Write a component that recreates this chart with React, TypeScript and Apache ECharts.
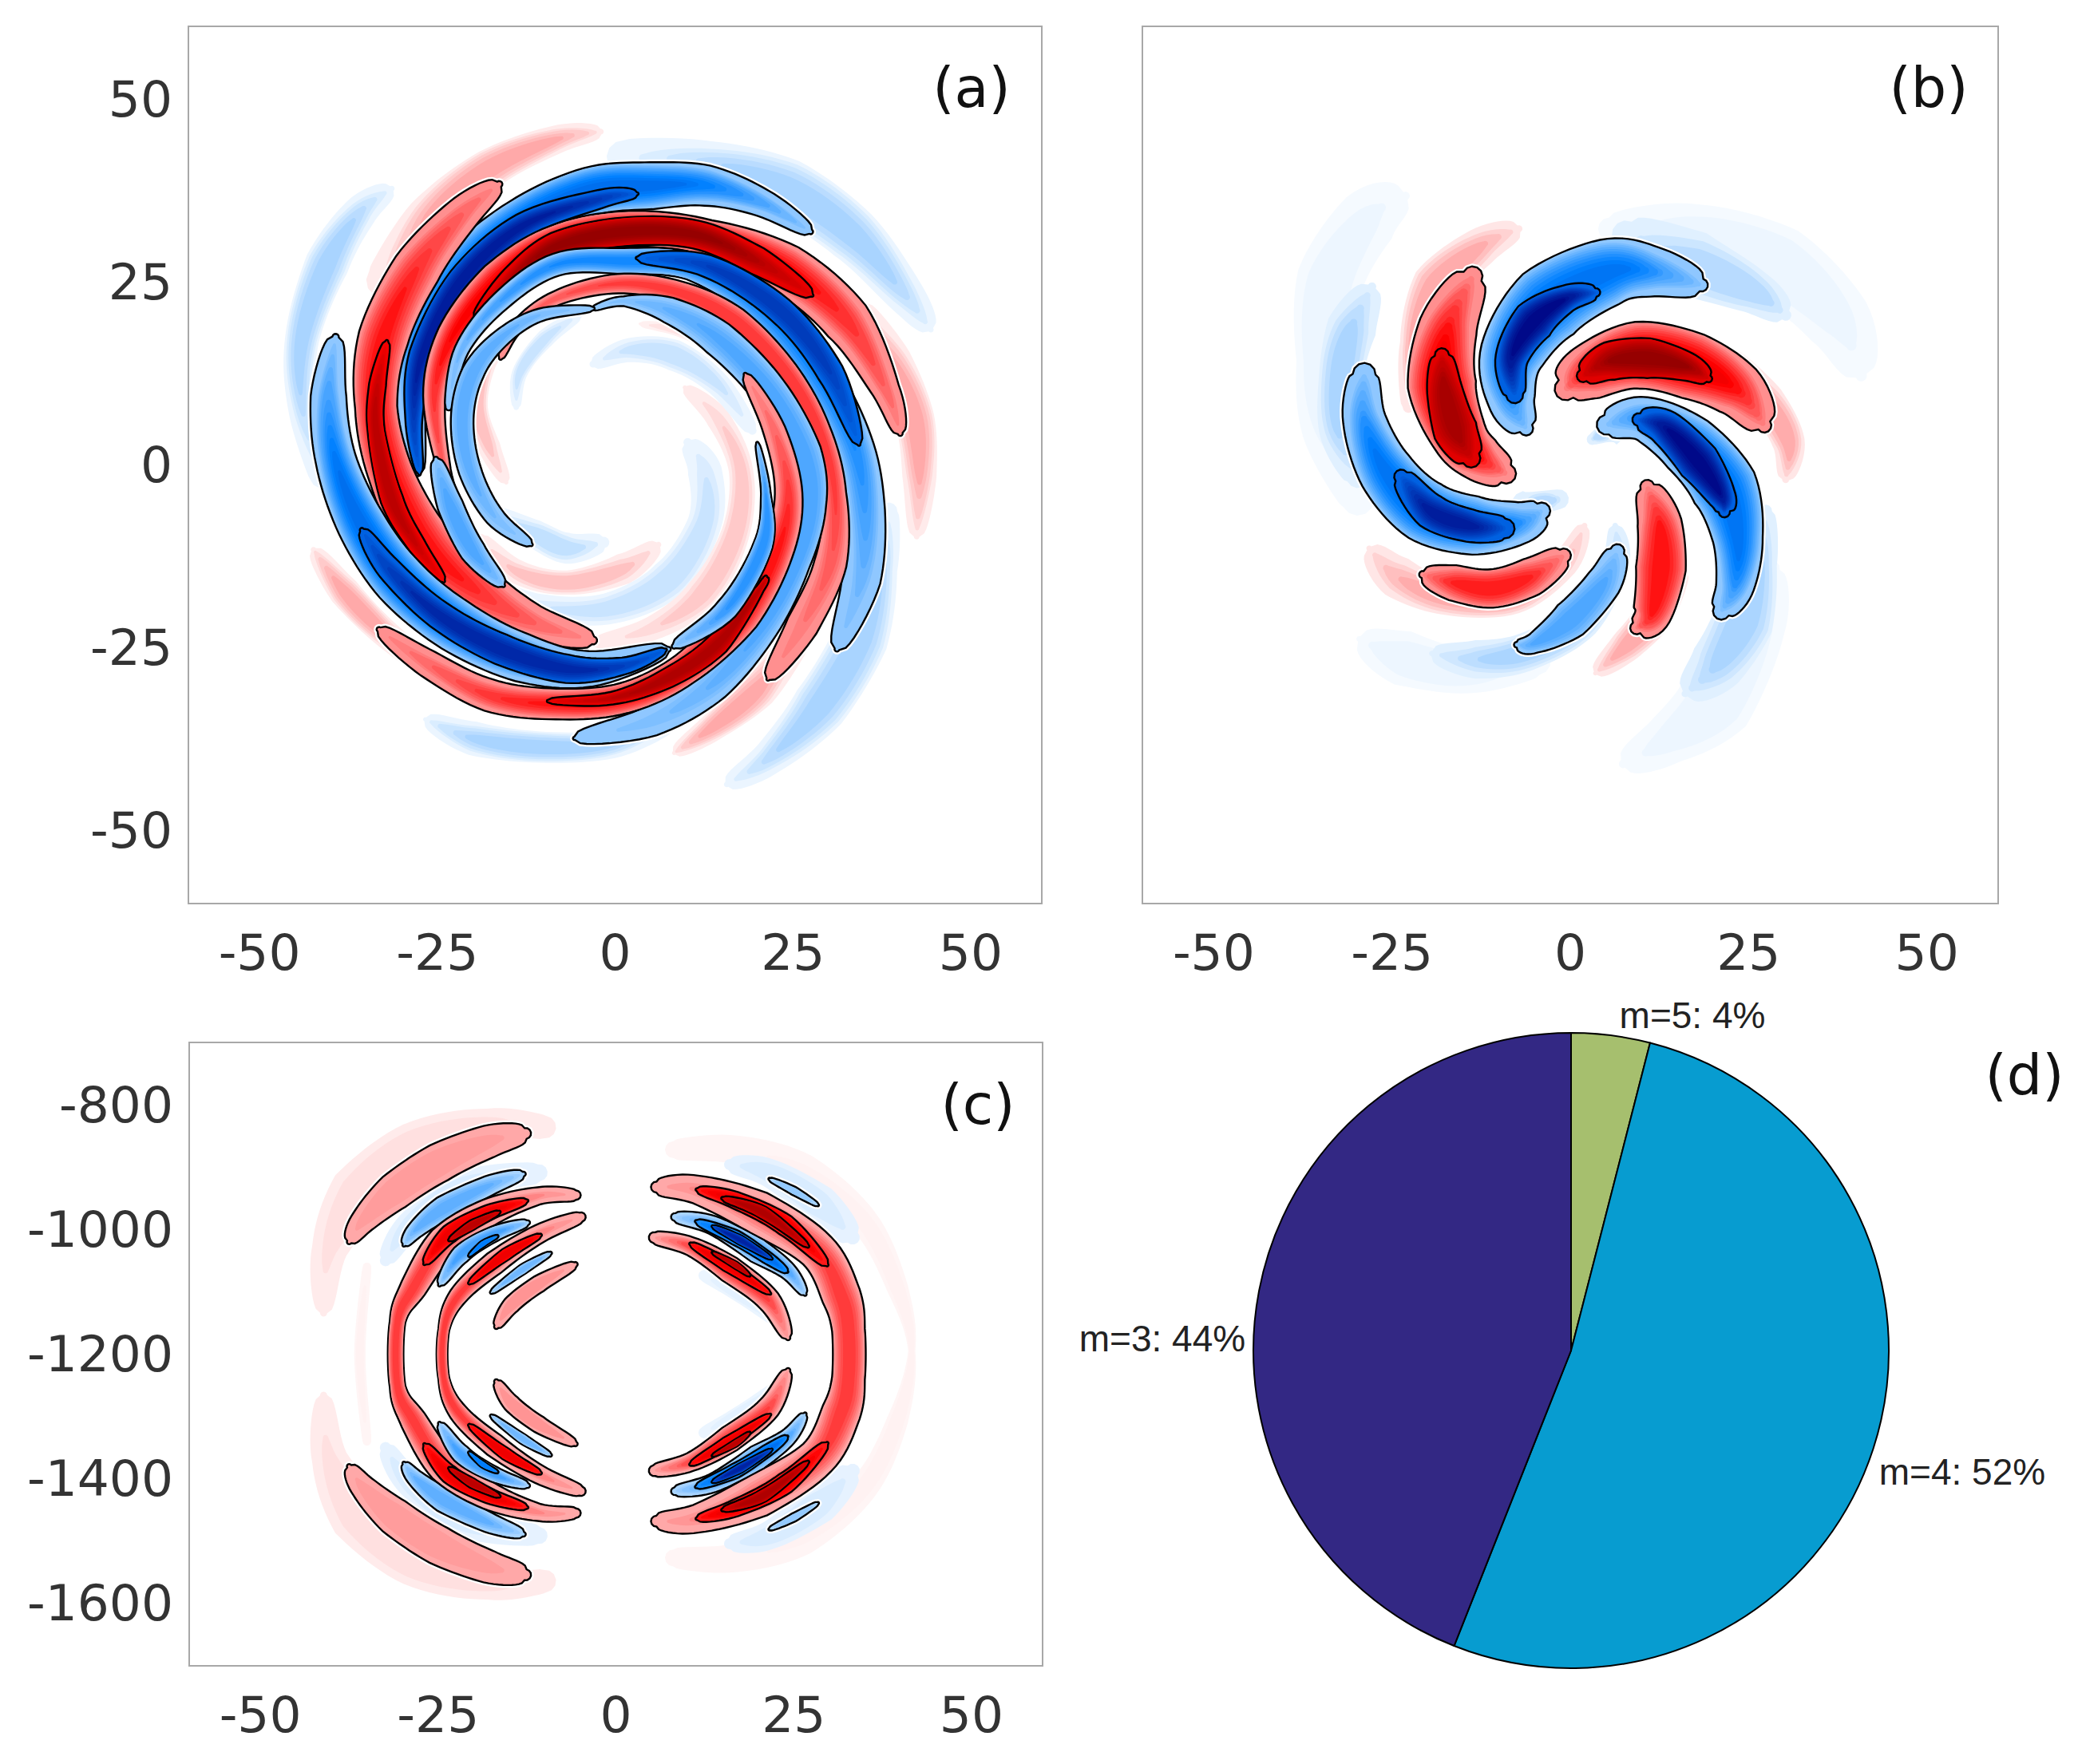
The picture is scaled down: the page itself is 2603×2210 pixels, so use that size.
import React, { useEffect, useRef } from 'react';
import * as echarts from 'echarts';

// every ridge of the contour plots is a spine: [x, y, half width]
type Spine = number[][];
type Blob = [number, number, number, Spine]; // sign (1 red, -1 blue), level from, level to, spine

const xTicks = [-50, -25, 0, 25, 50];
const yTicksAB = [-50, -25, 0, 25, 50];
const yTicksC = [-1600, -1400, -1200, -1000, -800];
const pieNames = ['m=5: 4%', 'm=4: 52%', 'm=3: 44%'];
const pieValues = [4, 52, 44];
const pieColors = ['#a6bf6e', '#079cd0', '#332884'];

// panel (a), pale outer and inner arms
const aP1 = [[-31.4, 37.8, .4], [-35.8, 34.6, 2.4], [-40.5, 27.5, 3.1], [-44, 17.3, 2.4], [-44, 7.9, 2], [-41.3, -1.6, 1.6]];
const aP2 = [[-2, 45.6, .4], [-8.3, 44.5, 2], [-17.7, 40.5, 2.8], [-26.3, 33.8, 3.1], [-32.6, 25.2, 2.4]];
const aP3 = [[44.4, 18.5, .4], [40.5, 23.6, 2.8], [33.4, 31.5, 3.9], [24, 37.8, 4.3], [13, 41.3, 3.1], [1.2, 42.1, 2.4]];
const aP4 = [[42.4, -9.8, .4], [42.8, -1.6, 2.4], [42.1, 6.3, 2.8], [38.9, 14.2, 2.8], [34.2, 21.2, 1.6]];
const aP5 = [[15.7, -43.7, .4], [21.6, -40.1, 2.4], [28.7, -33.1, 3.9], [34.6, -23.6, 3.9], [37.7, -14.2, 2], [38.5, -6.3, 1.2]];
const aP6 = [[8.3, -39.4, .3], [13.8, -35.8, 2], [20, -30.7, 2.8], [25.5, -23.6, 2]];
const aP7 = [[-26.7, -34.8, .3], [-20, -37.4, 2.4], [-10.6, -38.6, 2.2], [-.4, -38.2, 2], [7.5, -35.4, 1.2]];
const aP8 = [[-42.4, -11.6, .4], [-38.1, -17.3, 2.2], [-32.6, -22.8, 2], [-25.5, -28.3, 1.4]];
const aP9 = [[-15.3, -2.4, .3], [-17.7, 2.4, 1.6], [-19.3, 7.9, 1.4], [-18.1, 13.4, 1.2], [-15.7, 16.5, .5]];
const aP10 = [[-13.9, 7.9, .4], [-13.4, 12.6, 1.1], [-9.8, 17.3, 1.3], [-5.1, 20.5, .5]];
const aP11 = [[-17.7, -6.3, .5], [-11.4, -9.4, 2], [-6.7, -11.4, 2.2], [-1.6, -10.6, .8]];
const aP12 = [[6.1, -10.9, .4], [1.2, -14.2, 2.2], [-6.7, -16.1, 1.7], [-13.8, -14.6, 1.7], [-18.9, -10.2, .8]];
const aP13 = [[10.2, 3.1, .6], [12.6, -.8, 2.4], [12.6, -7.9, 2.4], [7.5, -15.7, 2.8], [-1.2, -19.7, 2.2], [-10.6, -19.3, 1.7], [-16.9, -16.5, .4]];
const aP14 = [[9.8, 10.6, .3], [14.5, 6.3, 1.7], [17.7, -.8, 1.7], [16.9, -9.4, 2], [12.2, -17.7, 2.4], [5.1, -22.4, 1.7], [-2.8, -24.4, .6]];
const aP15 = [[-3.1, 13.8, .5], [2, 15.7, 1.7], [8.3, 15, 2.2], [14.5, 11, 1.7], [19.3, 4.7, .6]];
const aP16 = [[3.5, 19.3, .2], [9.8, 18.1, .9], [16.9, 14.2, .6]];

// panel (a), arms with a black contour
const aBlueTop = [[27.5, 31.9, .3], [20.8, 35.8, 1.7], [13, 38.2, 2.5], [5.1, 38.2, 2.9], [-3.5, 37.4, 3], [-13, 33.1, 3.1], [-21.6, 26, 3.3], [-27.1, 17.3, 3.1], [-28.8, 9.4, 2], [-27.7, -1.2, .3]];
const aBlueTopCore = [[3.1, 37.1, .2], [-2, 36.4, 1.3], [-13, 32.7, 1.8], [-21.6, 25.2, 2], [-27.1, 15, 1.9], [-28.3, 6.3, 1.2], [-27.5, -1.2, .2]];
const aRedLeft = [[-16.3, 38.4, .4], [-21.6, 34.2, 2.2], [-27.9, 26.8, 3], [-32.6, 17.3, 3.1], [-33.6, 7.9, 2.6], [-31.4, -1.6, 2.8], [-26.3, -11, 3.3], [-19.3, -17.3, 3.3], [-11.4, -21.6, 2.2], [-3.1, -24, .5]];
const aRedLeftCore = [[-32.1, 16.9, .2], [-33.4, 11, 1.2], [-33.6, 4.7, 1.2], [-31.4, -4.7, 1.6], [-27.9, -11, 1.3], [-24.1, -15.9, .2]];
const aBlueLeft = [[-39.3, 17.5, .4], [-40.3, 9.4, 2.2], [-39.3, .8, 2.5], [-35.8, -7.9, 3], [-30.3, -15.7, 3.3], [-22.4, -22, 3.3], [-13, -26.4, 3], [-3.5, -27.9, 2.2], [7.5, -25.2, .3]];
const aBlueLeftCore = [[-35.6, -8.9, .3], [-31.8, -14.2, 1.7], [-24.8, -20.5, 2], [-16.1, -25.2, 2.2], [-6.7, -27.9, 2], [1.2, -27.5, 1.2], [7.1, -25.3, .2]];
const aRedTop = [[40.1, 4.3, .3], [38.1, 10.2, 1.7], [32.6, 19.7, 3], [24, 26.8, 3.1], [13, 31.1, 2.2], [2, 32.3, 2.2], [-8.3, 30.5, 2.1], [-16.5, 25.2, 2.4], [-22.8, 17.7, 2], [-25.4, 9.4, 1.4], [-24, -.8, .8], [-21.6, -7.1, .2]];
const aRedTopCore = [[-19.7, 20.1, .2], [-14.5, 25.6, 1.6], [-8.3, 29.9, 2], [1.2, 31.9, 2], [11.4, 31.5, 2], [20, 27.9, 2], [27.7, 23.2, .2]];
const aBlueRight = [[31.2, -25.2, .3], [34.6, -15.7, 2.4], [35.1, -6.3, 2.5], [33.4, 3.1, 2.4], [27.9, 13.4, 2.5], [20, 22.4, 2.4], [10.6, 27.2, 1.7], [1.2, 27.9, 1.6], [-8.3, 27.4, 1.4], [-16.1, 22.4, 1.2], [-21.6, 15.7, .9], [-23.4, 7.9, .4]];
const aBlueRightCore = [[3.1, 28.3, .2], [13, 27.2, 1.6], [23.2, 21.2, 1.9], [30.3, 12.6, 1.9], [34.3, 2.8, .2]];
const aBlueTail = [[-25.2, .8, .3], [-23.2, -5.5, 1.6], [-20, -11.8, 1.6], [-15.7, -16.5, .2]];
const aRedRight = [[21.5, -29.3, .2], [26.3, -22, 2], [30.3, -13.4, 2], [30.9, -3.9, 1.4], [28.7, 4.7, 1.4], [24, 12.6, 1.6], [16.9, 19.7, 1.7], [9, 23.6, 1.4], [.4, 24.8, 1.2], [-8.3, 22.8, .9], [-13.8, 18.9, .8], [-16.1, 14.6, .2]];
const aBlueMid = [[-3.1, 21.4, .2], [1.2, 22.4, .6], [7.5, 21.2, 1.6], [14.5, 17.3, 2.2], [21.6, 10.2, 2.2], [26.3, 1.6, 2.4], [27.5, -5.5, 1.9], [25.5, -13.4, 1.7], [20.8, -22, 2], [13.8, -29.9, 2.2], [5.1, -35, 1.9], [-5.7, -37.4, .2]];
const aBlueInner = [[-11.8, -10.9, .2], [-16.9, -7.1, 1.2], [-20.4, -.8, 1.4], [-21.5, 6.3, 1.4], [-20, 12.6, 1.4], [-16.1, 17.3, 1.1], [-10.6, 20.5, .8], [-3.1, 21.4, .2]];
const aRedBottom = [[-33.2, -22.5, .3], [-26.3, -27.2, 1.7], [-17.7, -31.5, 2], [-8.3, -32.7, 1.9], [1.2, -31.9, 1.9], [9.8, -27.9, 2], [17.7, -20.5, 2.4], [22.8, -11.8, 2], [24.4, -3.9, 1.7], [22.4, 4.7, 1.4], [18.3, 12.4, .2]];
const aRedBottomCore = [[-9.4, -32.3, .2], [-.4, -31.9, .9], [7.5, -29.1, 1.4], [14.5, -24.4, 1.6], [20.4, -16.9, .6], [21.2, -15.3, .2]];
const aBlueThin = [[20, 3, .15], [21.2, -3.9, .6], [20.8, -11, 1.2], [15.7, -19.7, 1.4], [8.3, -24.8, .3]];

const panelA: Blob[] = [
  [-1, .04, .2, aP1], [1, .04, .2, aP2], [-1, .04, .2, aP3], [1, .04, .2, aP4], [-1, .04, .2, aP5], [1, .04, .2, aP6],
  [-1, .04, .2, aP7], [1, .04, .2, aP8], [1, .04, .16, aP9], [-1, .04, .14, aP10], [-1, .04, .16, aP11], [1, .04, .16, aP12],
  [-1, .04, .14, aP13], [1, .04, .14, aP14], [-1, .04, .14, aP15], [1, .03, .08, aP16],
  [-1, .22, .6, aBlueTop], [-1, .62, .92, aBlueTopCore], [1, .22, .5, aRedLeft], [1, .55, .8, aRedLeftCore],
  [-1, .22, .6, aBlueLeft], [-1, .62, .88, aBlueLeftCore], [1, .22, .55, aRedTop], [1, .6, .95, aRedTopCore],
  [-1, .22, .5, aBlueRight], [-1, .6, .8, aBlueRightCore], [-1, .22, .38, aBlueTail], [1, .22, .42, aRedRight],
  [-1, .22, .38, aBlueMid], [-1, .22, .35, aBlueInner], [1, .22, .5, aRedBottom], [1, .6, .85, aRedBottomCore], [-1, .22, .45, aBlueThin],
];

// panel (b)
const bH1 = [[-23.1, 36.8, .6], [-28.2, 33.8, 4.3], [-33.7, 25.2, 4.7], [-35.3, 14.2, 3.1], [-34.5, 4.7, 3.1], [-29.8, -4.7, 2.3]];
const bH2 = [[-27.8, 24.4, .6], [-30.6, 18.9, 3.5], [-32.1, 12.6, 3.1], [-32.5, 4.7, 2.7], [-29.8, -1.6, 1.6]];
const bH3 = [[-7.2, 32.3, .5], [-12.5, 29.9, 2.7], [-18.8, 24.4, 3.5], [-22.3, 16.5, 1.6], [-22.7, 7.9, .8]];
const bH4a = [[40.8, 12.2, .8], [37.6, 19.7, 4.7], [29, 27.5, 5.5], [17.2, 32.3, 3.5], [5.5, 32.3, 1.6]];
const bH4b = [[30.2, 20.5, .8], [25.9, 23.6, 3.1], [17.2, 27.5, 4.7], [7.8, 31.5, 2]];
const bH5 = [[30.2, -2, .5], [30.6, 3.1, 2.3], [27.4, 8.7, 2.7], [22, 14.2, 2]];
const bH6a = [[7.4, -40.9, .6], [13.3, -37.8, 3.5], [20.4, -32.3, 5.5], [26.7, -22, 3.5], [28.2, -14.2, 1.2]];
const bH6b = [[16.1, -31.3, .5], [20.4, -27.5, 3.9], [24.3, -21.2, 4.3], [26.7, -13.4, 2.3], [27.4, -6.3, .9]];
const bH7 = [[3.5, -28.5, .3], [7.8, -24.8, 2.3], [11.8, -20.5, 2.7], [15.3, -14.2, 1.2]];
const bH8a = [[-29.6, -23.8, .4], [-23.5, -26.4, 3.9], [-14.1, -28.3, 3], [-4.7, -26.8, 2]];
const bH8b = [[-19.4, -25.8, .4], [-13.3, -26.6, 2.7], [-6.3, -25.6, 2.7], [1.6, -21.2, 2.7], [6.3, -13.4, 2], [6.3, -8.3, .4]];
const bH9 = [[-28.2, -11.4, .4], [-24.3, -15.3, 3], [-17.2, -18.1, 2.5], [-7.8, -18.1, 2.3], [-.8, -13.4, 2], [2, -8.3, .4]];
const bH10 = [[-6.3, -5.5, 2], [-1.6, -4.7, 1.4]];
const bH11 = [[5.5, 4.7, 2.2], [3.1, 3.5, .8]];

const bBlueTop = [[18.4, 24.6, .9], [11.8, 26.4, 3.5], [5.5, 26.4, 4.7], [-3.1, 22, 5.5], [-8.2, 15, 4.5], [-8.2, 8.7, 3.3], [-6.2, 5, 1]];
const bBlueTopCore = [[3.6, 23.6, .6], [-.4, 22.8, 1.9], [-5.1, 19.7, 3], [-8.2, 14.6, 2.3], [-7.8, 9.6, 1.2]];
const bRedTop = [[-.6, 10.4, 1.6], [2.4, 12.6, 3.9], [9.4, 15, 4.7], [17.2, 13.5, 4.7], [23.5, 10.2, 3.9], [27.2, 5.4, 1]];
const bRedTopCore = [[1.8, 12.2, .9], [5.5, 14.2, 2.7], [11, 14.6, 2.8], [16.5, 13.4, 2], [19.4, 11.8, .5]];
const bBlueRight = [[5.1, 5.5, 1.4], [10.2, 6.3, 3.1], [16.5, 2.8, 4.3], [21.6, -3.1, 4.7], [23.5, -10.2, 3.5], [23.1, -16.5, 2.7], [21.2, -20, 1.2]];
const bBlueRightCore = [[9.6, 6.2, .9], [13.3, 5.1, 2.5], [18, .4, 3], [21.2, -4.3, 2], [21.6, -6.4, .8]];
const bRedRight = [[10.8, -3, 1], [12.5, -7.9, 3.1], [12.7, -14.2, 3.5], [11.4, -20.5, 2.7], [9.3, -22.3, .9]];
const bBlueBottom = [[6.6, -11.8, 1], [4.7, -16.1, 2.5], [0, -21.2, 2.7], [-5.1, -24.4, 1.4], [-7.5, -24.6, .4]];
const bRedBottom = [[-20.7, -15, .5], [-16.5, -16.1, 2.5], [-11, -16.9, 2.7], [-5.5, -15.3, 2.7], [-.9, -12.4, 1]];
const bBlueLeft = [[-28.9, 12.4, 1.6], [-28.9, 6.3, 3], [-25.9, -.8, 3.9], [-20.4, -6.3, 4.4], [-13.3, -8.3, 4.1], [-7.1, -7.9, 3], [-4, -6.3, 1.2]];
const bBlueLeftCore = [[-23.7, -1.6, 1], [-19.6, -6.3, 2.5], [-14.1, -8.3, 2.3], [-9.2, -8.7, 1.4]];
const bRedLeft = [[-13.7, 25.8, 1.4], [-17.1, 18.9, 4.1], [-18, 11, 4.8], [-15.5, 3.9, 3.9], [-12.5, .8, 3.3], [-9, -1.2, 1.4]];
const bRedLeftCore = [[-18, 15, 1], [-17.6, 10.2, 2.5], [-16.1, 4.7, 3.1], [-13.9, .9, 1.3]];

const panelB: Blob[] = [
  [-1, .02, .05, bH1], [-1, .02, .05, bH4a], [-1, .02, .05, bH6a], [-1, .02, .05, bH8a],
  [-1, .06, .2, bH2], [1, .05, .2, bH3], [-1, .06, .18, bH4b], [1, .05, .2, bH5], [-1, .06, .2, bH6b], [1, .05, .2, bH7],
  [-1, .06, .2, bH8b], [1, .05, .2, bH9], [-1, .06, .18, bH10], [-1, .06, .18, bH11],
  [-1, .22, .58, bBlueTop], [-1, .62, 1, bBlueTopCore], [1, .22, .58, bRedTop], [1, .62, .95, bRedTopCore],
  [-1, .22, .58, bBlueRight], [-1, .62, 1, bBlueRightCore], [1, .22, .5, bRedRight], [-1, .22, .38, bBlueBottom],
  [1, .22, .48, bRedBottom], [-1, .22, .58, bBlueLeft], [-1, .62, .92, bBlueLeftCore], [1, .22, .58, bRedLeft], [1, .62, .88, bRedLeftCore],
];

// panel (c), pale arms
const cPale1 = [[-10, -836, 1.6], [-17.9, -829, 2], [-28.1, -866, 3.5], [-36, -946, 4.5], [-40.3, -1034, 2.5], [-41.1, -1134, .5]];
const cPale1b = [[-10, -1564, 1.6], [-17.9, -1571, 2], [-28.1, -1534, 3.5], [-36, -1454, 4.5], [-40.3, -1366, 2.5], [-41.1, -1266, .5]];
const cRing = [[8.1, -872, 1.2], [16.8, -872, 2], [26.2, -906, 2.5], [34.9, -987, 2], [39.6, -1094, 1.5], [41.6, -1195, .5], [39.6, -1306, 1.5], [34.9, -1413, 2], [26.2, -1494, 2.5], [16.8, -1527, 2], [8.1, -1527, 1.2]];
const cPaleBlueR = [[16, -896, .8], [21.5, -909, 2], [28.6, -960, 2.8], [33.3, -1013, 1]];
const cPaleBlueRb = [[16, -1504, .8], [21.5, -1491, 2], [28.6, -1440, 2.8], [33.3, -1387, 1]];
const cPaleBlueL = [[-32.4, -1050, .8], [-28.9, -993, 2], [-21, -930, 2.2], [-10.8, -909, 1.2]];
const cPaleBlueLb = [[-32.4, -1350, .8], [-28.9, -1407, 2], [-21, -1470, 2.2], [-10.8, -1491, 1.2]];
const cPaleLeft = [[-35, -1060, .6], [-36, -1200, .8], [-35, -1340, .6]];
const cPaleIn = [[12.4, -1074, .8], [17.5, -1107, 1], [22.3, -1148, .5]];
const cPaleInb = [[12.4, -1326, .8], [17.5, -1293, 1], [22.3, -1252, .5]];

// panel (c), left side
const cL1 = [[-12.7, -846, .7], [-17.9, -859, 2.1], [-24.9, -893, 2.5], [-31.2, -940, 2.4], [-35.6, -987, 1.6], [-37.5, -1020, .3]];
const cL1b = [[-12.7, -1554, .7], [-17.9, -1541, 2.1], [-24.9, -1507, 2.5], [-31.2, -1460, 2.4], [-35.6, -1413, 1.6], [-37.5, -1380, .3]];
const cL2 = [[-13, -911, .3], [-17.9, -930, 1.3], [-24.2, -966, 1.6], [-28.1, -1000, 1.1], [-29.8, -1025, .2]];
const cL2b = [[-13, -1489, .3], [-17.9, -1470, 1.3], [-24.2, -1434, 1.6], [-28.1, -1400, 1.1], [-29.8, -1375, .2]];
const cL3 = [[-5.6, -945, .6], [-10.8, -946, 1.1], [-17.9, -973, 1.8], [-24.2, -1020, 2.1], [-28.5, -1094, 1.7], [-30.7, -1148, 1], [-30.7, -1252, 1], [-28.5, -1306, 1.7], [-24.2, -1380, 2.1], [-17.9, -1427, 1.8], [-10.8, -1454, 1.1], [-5.6, -1455, .6]];
const cL3Core = [[-12.5, -954, .2], [-17.9, -973, 1.1], [-23.4, -1007, 1.3], [-26.9, -1055, .2]];
const cL3Coreb = [[-12.5, -1446, .2], [-17.9, -1427, 1.1], [-23.4, -1393, 1.3], [-26.9, -1345, .2]];
const cL3Dark = [[-16.4, -972, .2], [-20.2, -993, .7], [-23.4, -1017, .2]];
const cL3Darkb = [[-16.4, -1428, .2], [-20.2, -1407, .7], [-23.4, -1383, .2]];
const cL4 = [[-12.4, -989, .3], [-17.1, -1007, 1], [-21.8, -1040, 1.2], [-24.8, -1089, .2]];
const cL4b = [[-12.4, -1411, .3], [-17.1, -1393, 1], [-21.8, -1360, 1.2], [-24.8, -1311, .2]];
const cL4Core = [[-16.7, -1011, .2], [-18.7, -1023, .45], [-20.6, -1042, .2]];
const cL4Coreb = [[-16.7, -1389, .2], [-18.7, -1377, .45], [-20.6, -1358, .2]];
const cL5 = [[-4.9, -980, .6], [-10.8, -1007, 1.2], [-17.1, -1054, 1.5], [-22.2, -1107, 1.2], [-24.2, -1161, .7], [-24.2, -1239, .7], [-22.2, -1293, 1.2], [-17.1, -1346, 1.5], [-10.8, -1393, 1.2], [-4.9, -1420, .6]];
const cL5Core = [[-10.6, -1009, .2], [-15.5, -1040, .85], [-20.6, -1086, .2]];
const cL5Coreb = [[-10.6, -1391, .2], [-15.5, -1360, .85], [-20.6, -1314, .2]];
const cL6 = [[-9.2, -1038, .2], [-13.1, -1064, .65], [-17.5, -1101, .2]];
const cL6b = [[-9.2, -1362, .2], [-13.1, -1336, .65], [-17.5, -1299, .2]];
const cL7 = [[-5.7, -1056, .3], [-10.8, -1087, 1.1], [-14.7, -1121, 1.1], [-16.8, -1156, .3]];
const cL7b = [[-5.7, -1344, .3], [-10.8, -1313, 1.1], [-14.7, -1279, 1.1], [-16.8, -1244, .3]];

// panel (c), right side
const cR8 = [[21.6, -919, .15], [25, -938, .55], [28.4, -961, .15]];
const cR8b = [[21.6, -1481, .15], [25, -1462, .55], [28.4, -1439, .15]];
const cR9 = [[5.7, -932, .7], [11.3, -936, 1.8], [19.9, -973, 2.8], [28.3, -1034, 2.5], [31.7, -1107, 2.5], [32.7, -1161, 2.1], [32.7, -1239, 2.1], [31.7, -1293, 2.5], [28.3, -1366, 2.5], [19.9, -1427, 2.8], [11.3, -1464, 1.8], [5.7, -1468, .7]];
const cR9Core = [[11.4, -936, .2], [16.8, -953, 1.2], [23.8, -993, 1.5], [29.7, -1057, .2]];
const cR9Coreb = [[11.4, -1464, .2], [16.8, -1447, 1.2], [23.8, -1407, 1.5], [29.7, -1343, .2]];
const cR9Dark = [[15, -950, .2], [20.7, -973, .9], [27, -1027, .2]];
const cR9Darkb = [[15, -1450, .2], [20.7, -1427, .9], [27, -1373, .2]];
const cR10 = [[8.3, -980, .5], [13.6, -993, 1.2], [19.9, -1034, 1.6], [24.2, -1067, 1.1], [26.6, -1104, .2]];
const cR10b = [[8.3, -1420, .5], [13.6, -1407, 1.2], [19.9, -1366, 1.6], [24.2, -1333, 1.1], [26.6, -1296, .2]];
const cR10Core = [[11.3, -987, .2], [16.8, -1013, 1.05], [21.5, -1047, .85], [24.1, -1068, .15]];
const cR10Coreb = [[11.3, -1413, .2], [16.8, -1387, 1.05], [21.5, -1353, .85], [24.1, -1332, .15]];
const cR10Dark = [[13.6, -995, .15], [17.5, -1017, .65], [21.9, -1047, .15]];
const cR10Darkb = [[13.6, -1405, .15], [17.5, -1383, .65], [21.9, -1353, .15]];
const cR11 = [[5.4, -1013, .7], [10.5, -1027, 1.2], [16, -1064, 1.7], [21.5, -1114, 1.5], [24.2, -1174, .3]];
const cR11b = [[5.4, -1387, .7], [10.5, -1373, 1.2], [16, -1336, 1.7], [21.5, -1286, 1.5], [24.2, -1226, .3]];
const cR11Core = [[10.5, -1023, .2], [15.6, -1057, .9], [21.7, -1103, .15]];
const cR11Coreb = [[10.5, -1377, .2], [15.6, -1343, .9], [21.7, -1297, .15]];
const cR11Dark = [[13.6, -1037, .15], [16.8, -1057, .5], [18.8, -1074, .15]];
const cR11Darkb = [[13.6, -1363, .15], [16.8, -1343, .5], [18.8, -1326, .15]];

const panelC: Blob[] = [
  [1, .04, .08, cPale1], [1, .04, .08, cPale1b], [1, .02, .03, cRing], [-1, .05, .1, cPaleBlueR], [-1, .05, .1, cPaleBlueRb],
  [-1, .05, .1, cPaleBlueL], [-1, .05, .1, cPaleBlueLb], [1, .02, .03, cPaleLeft], [-1, .04, .07, cPaleIn], [-1, .04, .07, cPaleInb],
  [1, .17, .22, cL1], [1, .17, .22, cL1b], [-1, .17, .35, cL2], [-1, .17, .35, cL2b],
  [1, .17, .42, cL3], [1, .17, .42, cL5], [-1, .17, .4, cL4], [-1, .17, .4, cL4b],
  [1, .45, .6, cL3Core], [1, .45, .6, cL3Coreb], [1, .65, .8, cL3Dark], [1, .65, .8, cL3Darkb],
  [-1, .45, .55, cL4Core], [-1, .45, .55, cL4Coreb], [1, .45, .6, cL5Core], [1, .45, .6, cL5Coreb],
  [-1, .17, .32, cL6], [-1, .17, .32, cL6b], [1, .17, .25, cL7], [1, .17, .25, cL7b],
  [-1, .17, .25, cR8], [-1, .17, .25, cR8b], [1, .17, .42, cR9], [1, .17, .42, cR11], [1, .17, .42, cR11b], [-1, .17, .4, cR10], [-1, .17, .4, cR10b],
  [1, .45, .6, cR9Core], [1, .45, .6, cR9Coreb], [1, .65, .85, cR9Dark], [1, .65, .85, cR9Darkb],
  [-1, .45, .6, cR10Core], [-1, .45, .6, cR10Coreb], [-1, .65, .9, cR10Dark], [-1, .65, .9, cR10Darkb],
  [1, .45, .6, cR11Core], [1, .45, .6, cR11Coreb], [1, .65, .8, cR11Dark], [1, .65, .8, cR11Darkb],
];

const armGain = [1.14, 1, 1.1];

const levelColor = (sign: number, v: number) => {
  const t = Math.min(v / 0.5, 1);
  const d = v > 0.5 ? (v - 0.5) / 0.5 : 0;
  if (sign > 0) {
    return v <= 0.5
      ? `rgb(255,${Math.round(255 * (1 - t))},${Math.round(255 * (1 - t))})`
      : `rgb(${Math.round(255 - 127 * d)},0,0)`;
  }
  return v <= 0.5
    ? `rgb(${Math.round(255 * (1 - t))},${Math.round(255 - 127 * t)},255)`
    : `rgb(0,${Math.round(128 * (1 - d))},${Math.round(255 - 127 * d)})`;
};

// dense Catmull-Rom walk along the spine, in pixels; widths open up quickly at the two tips
const densify = (pts: number[][]) => {
  const out: number[][] = [];
  const last = pts.length - 2;
  for (let i = 0; i <= last; i++) {
    const p0 = pts[Math.max(i - 1, 0)];
    const p1 = pts[i];
    const p2 = pts[i + 1];
    const p3 = pts[Math.min(i + 2, pts.length - 1)];
    for (let s = 0; s < 10; s++) {
      const t = s / 10;
      const cr = (k: number) => 0.5 * (2 * p1[k] + (p2[k] - p0[k]) * t + (2 * p0[k] - 5 * p1[k] + 4 * p2[k] - p3[k]) * t * t + (3 * p1[k] - p0[k] - 3 * p2[k] + p3[k]) * t * t * t);
      let tw = t;
      if (i === 0) tw = Math.sqrt(t);
      else if (i === last) tw = 1 - Math.sqrt(1 - t);
      out.push([cr(0), cr(1), Math.max(p1[2] + (p2[2] - p1[2]) * tw, 0.5)]);
    }
  }
  out.push(pts[pts.length - 1]);
  return out;
};

// outline of the ribbon at level fraction f: narrower and shorter as f grows
const ribbon = (dense: number[][], f: number) => {
  const trim = Math.floor(dense.length * 0.3 * f);
  const part = dense.slice(trim, dense.length - trim);
  const n = part.length;
  const left: number[][] = [];
  const right: number[][] = [];
  let firstN = [0, 1];
  let lastN = [0, 1];
  part.forEach((p, i) => {
    const a = part[Math.max(i - 1, 0)];
    const b = part[Math.min(i + 1, n - 1)];
    const dx = b[0] - a[0];
    const dy = b[1] - a[1];
    const len = Math.hypot(dx, dy) || 1;
    const nx = -dy / len;
    const ny = dx / len;
    if (i === 0) firstN = [nx, ny];
    lastN = [nx, ny];
    const taper = f > 0 ? Math.pow(Math.sin(Math.PI * (i + 0.5) / n), 0.45) : 1;
    const w = p[2] * Math.sqrt(1 - f) * taper;
    left.push([p[0] + nx * w, p[1] + ny * w]);
    right.push([p[0] - nx * w, p[1] - ny * w]);
  });
  const cap = (p: number[], nrm: number[], w: number) => {
    const res: number[][] = [];
    for (let k = 1; k < 6; k++) {
      const ang = (Math.PI * k) / 6;
      res.push([p[0] + (nrm[0] * Math.cos(ang) + nrm[1] * Math.sin(ang)) * w, p[1] + (nrm[1] * Math.cos(ang) - nrm[0] * Math.sin(ang)) * w]);
    }
    return res;
  };
  const endTaper = f > 0 ? Math.pow(Math.sin(Math.PI * 0.5 / n), 0.45) : 1;
  const endCap = cap(part[n - 1], lastN, part[n - 1][2] * Math.sqrt(1 - f) * endTaper);
  const startCap = cap(part[0], [-firstN[0], -firstN[1]], part[0][2] * Math.sqrt(1 - f) * endTaper);
  return [...left, ...endCap, ...right.reverse(), ...startCap];
};

// pass 0 pale arms, pass 1 white rim below the contoured arms, pass 2 contoured arms
const makeSeries = (blobs: Blob[], gridIndex: number, pass: number) => {
  const list = blobs.filter(b => (pass === 0 ? b[1] < 0.17 : b[1] >= 0.17));
  return {
    type: 'custom',
    coordinateSystem: 'cartesian2d',
    xAxisIndex: gridIndex,
    yAxisIndex: gridIndex,
    silent: true,
    clip: true,
    data: list.map(() => [0, 0]),
    z: 2 + pass,
    renderItem: (params: any, api: any) => {
      const [sign, from, to, spine] = list[params.dataIndex];
      const o = api.coord([0, spine[0][1]]);
      const u = api.coord([1, spine[0][1]]);
      const gain = pass > 0 && from <= 0.4 ? armGain[gridIndex] : 1;
      const ppu = Math.abs(u[0] - o[0]) * gain;
      const dense = densify(spine.map(([x, y, w]) => {
        const p = api.coord([x, y]);
        return [p[0], p[1], w * ppu];
      }));
      if (pass === 1) {
        if (from > 0.4) return { type: 'group', children: [] };
        return {
          type: 'polygon',
          shape: { points: ribbon(dense, 0) },
          style: { fill: '#fff', stroke: '#fff', lineWidth: 7, lineJoin: 'round' },
        };
      }
      const n = Math.max(2, Math.round((to - from) / 0.035));
      const children: any[] = [];
      for (let k = 0; k < n; k++) {
        const f = k / n;
        const first = k === 0;
        children.push({
          type: 'polygon',
          z2: params.dataIndex * 100 + k,
          shape: { points: ribbon(dense, f) },
          style: {
            fill: levelColor(sign, from + (to - from) * f),
            stroke: first && pass === 2 ? '#000' : 'none',
            lineWidth: first && pass === 2 ? 2.4 : 0,
          },
        });
      }
      return { type: 'group', children };
    },
  };
};

const frames = [
  { left: 236, top: 33, width: 1069, height: 1099, ymin: -60, ymax: 60, ticks: yTicksAB, yLabels: true },
  { left: 1431, top: 33, width: 1072, height: 1099, ymin: -60, ymax: 60, ticks: yTicksAB, yLabels: false },
  { left: 237, top: 1306, width: 1069, height: 781, ymin: -1700, ymax: -700, ticks: yTicksC, yLabels: true },
];

const axisText = { color: '#333333', fontFamily: 'DejaVu Sans', fontSize: 63 };

const panelTag = (text: string, x: number, y: number) => ({
  type: 'text',
  x,
  y,
  style: { text, fill: '#111', font: '70px "DejaVu Sans"', textAlign: 'center', textVerticalAlign: 'middle' },
});

const labelSpots = [
  { x: 2120, y: 1272 },
  { x: 2458, y: 1844 },
  { x: 1456, y: 1677 },
];

const App: React.FC = () => {
  const ref = useRef<HTMLDivElement>(null);

  useEffect(() => {
    if (!ref.current) return;
    const chart = echarts.init(ref.current, undefined, { renderer: 'svg' });
    const panels = [panelA, panelB, panelC];
    chart.setOption({
      animation: false,
      backgroundColor: '#ffffff',
      grid: frames.map(f => ({
        left: f.left,
        top: f.top,
        width: f.width,
        height: f.height,
        show: true,
        borderColor: '#a8a8a8',
        borderWidth: 2,
        backgroundColor: '#ffffff',
      })),
      xAxis: frames.map((_, i) => ({
        type: 'value',
        gridIndex: i,
        min: -60,
        max: 60,
        axisLine: { show: false },
        axisTick: { show: false },
        splitLine: { show: false },
        axisLabel: { ...axisText, margin: 30, customValues: xTicks },
      })),
      yAxis: frames.map((f, i) => ({
        type: 'value',
        gridIndex: i,
        min: f.ymin,
        max: f.ymax,
        axisLine: { show: false },
        axisTick: { show: false },
        splitLine: { show: false },
        axisLabel: { ...axisText, show: f.yLabels, margin: 20, customValues: f.ticks, formatter: (v: number) => String(v) },
      })),
      series: [
        ...panels.flatMap((blobs, i) => [makeSeries(blobs, i, 0), makeSeries(blobs, i, 1), makeSeries(blobs, i, 2)]),
        {
          type: 'pie',
          center: [1968, 1692],
          radius: 398,
          startAngle: 90,
          clockwise: true,
          silent: true,
          data: pieNames.map((name, i) => ({ name, value: pieValues[i], itemStyle: { color: pieColors[i] } })),
          itemStyle: { borderColor: '#000', borderWidth: 2 },
          label: { show: true, formatter: '{b}', color: '#222', fontFamily: 'Liberation Sans', fontSize: 46, overflow: 'none', bleedMargin: 0 },
          labelLine: { show: false },
          labelLayout: (p: any) => ({ ...labelSpots[p.dataIndex], align: 'center', verticalAlign: 'middle' }),
        },
      ],
      graphic: [
        panelTag('(a)', 1217, 110),
        panelTag('(b)', 2416, 110),
        panelTag('(c)', 1225, 1384),
        panelTag('(d)', 2536, 1347),
      ],
    });
    return () => chart.dispose();
  }, []);

  return <div ref={ref} style={{ position: 'absolute', left: 0, top: 0, width: 2603, height: 2210 }} />;
};

export default App;
